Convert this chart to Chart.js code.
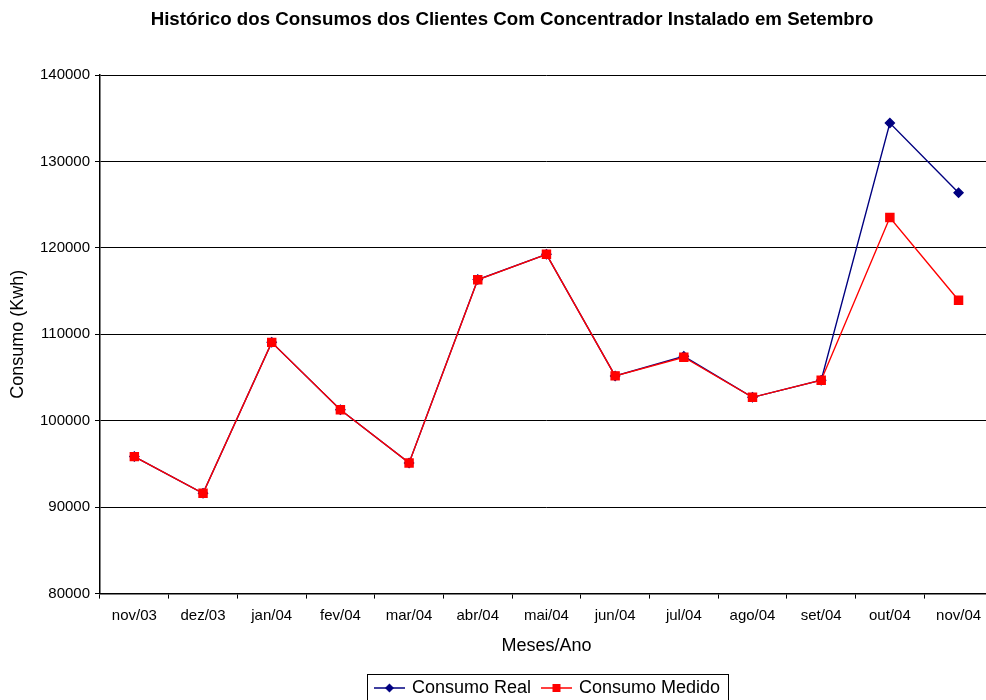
<!DOCTYPE html>
<html>
<head>
<meta charset="utf-8">
<script src="https://cdn.jsdelivr.net/npm/chart.js@4/dist/chart.umd.min.js"></script>
<style>
  html, body { margin: 0; padding: 0; background: #fff; overflow: hidden; }
  .wrap { width: 1000px; height: 700px; }
</style>
</head>
<body>
<div class="wrap"><canvas id="chart" width="1000" height="700"></canvas></div>
<script>
// Data
const meses = ["nov/03", "dez/03", "jan/04", "fev/04", "mar/04", "abr/04", "mai/04",
  "jun/04", "jul/04", "ago/04", "set/04", "out/04", "nov/04"];
const consumoReal = [95850, 91600, 109070, 101280, 95120, 116330, 119260,
  105190, 107450, 102710, 104690, 134450, 126370];
const consumoMedido = [95850, 91600, 109070, 101280, 95120, 116310, 119260,
  105190, 107350, 102710, 104690, 123510, 113940];
const yTicks = [80000, 90000, 100000, 110000, 120000, 130000, 140000];

const FONT = "'Liberation Sans', Arial, sans-serif";

// legend icon: short line with the marker in the middle
function legendIcon(color, shape) {
  const c = document.createElement("canvas");
  c.width = 31; c.height = 12;
  const ctx = c.getContext("2d");
  ctx.strokeStyle = color;
  ctx.lineWidth = 1.5;
  ctx.beginPath();
  ctx.moveTo(0, 6); ctx.lineTo(31, 6);
  ctx.stroke();
  ctx.fillStyle = color;
  ctx.beginPath();
  if (shape === "diamond") {
    ctx.moveTo(15.5, 1.5); ctx.lineTo(20, 6); ctx.lineTo(15.5, 10.5); ctx.lineTo(11, 6);
    ctx.closePath();
  } else {
    ctx.rect(11.5, 2, 8, 8);
  }
  ctx.fill();
  return c;
}

// move title/legend to where they sit in the original, then box the legend
const layoutTweak = {
  id: "layoutTweak",
  afterLayout(chart) {
    const t = chart.titleBlock;
    if (t) { t.left += 12; t.right += 12; }
    const l = chart.legend;
    if (l) { l.left += 48; l.right += 48; l.top += 7; l.bottom += 7; }
  },
  afterDraw(chart) {
    const l = chart.legend;
    if (!l || !l.legendHitBoxes || !l.legendHitBoxes.length) return;
    const boxes = l.legendHitBoxes;
    const first = boxes[0];
    const last = boxes[boxes.length - 1];
    const x0 = Math.round(first.left - 9) + 0.5;
    const x1 = Math.round(last.left + last.width + 8) + 0.5;
    const y0 = Math.round(first.top + first.height / 2 - 14) + 0.5;
    const ctx = chart.ctx;
    ctx.save();
    ctx.strokeStyle = "#000";
    ctx.lineWidth = 1;
    ctx.strokeRect(x0, y0, x1 - x0, 40);
    ctx.restore();
  }
};

new Chart("chart", {
  type: "line",
  data: {
    labels: meses,
    datasets: [
      {
        label: "Consumo Real",
        data: consumoReal,
        order: 1,
        borderColor: "#000080",
        backgroundColor: "#000080",
        borderWidth: 1.4,
        pointStyle: "rectRot",
        pointRadius: 4.5,
        pointHoverRadius: 4.5,
        tension: 0,
      },
      {
        label: "Consumo Medido",
        data: consumoMedido,
        order: 0,
        borderColor: "#ff0000",
        backgroundColor: "#ff0000",
        borderWidth: 1.4,
        pointStyle: "rect",
        pointRadius: 5.7,
        pointHoverRadius: 5.7,
        tension: 0,
      },
    ],
  },
  options: {
    responsive: false,
    animation: false,
    layout: { padding: 0 },
    plugins: {
      title: {
        display: true,
        text: "Histórico dos Consumos dos Clientes Com Concentrador Instalado em Setembro",
        color: "#000",
        font: { family: FONT, size: 18.7, weight: "bold" },
        padding: { top: 9, bottom: 43.6 },
      },
      legend: {
        position: "bottom",
        labels: {
          color: "#000",
          font: { family: FONT, size: 18 },
          usePointStyle: true,
          pointStyleWidth: 27,
          padding: 12,
          generateLabels(chart) {
            return chart.data.datasets.map((ds, i) => ({
              text: ds.label,
              pointStyle: legendIcon(ds.borderColor, i === 0 ? "diamond" : "square"),
              fillStyle: ds.borderColor,
              strokeStyle: ds.borderColor,
              lineWidth: 0,
              datasetIndex: i,
              fontColor: "#000",
            }));
          },
        },
      },
      tooltip: { enabled: false },
    },
    scales: {
      x: {
        type: "category",
        offset: true,
        grid: {
          display: true,
          offset: true,
          drawOnChartArea: false,
          drawTicks: true,
          tickLength: 5,
          color: "#000",
        },
        border: { display: true, color: "#000", width: 1.5 },
        ticks: {
          color: "#000",
          font: { family: FONT, size: 15 },
          padding: 8,
          maxRotation: 0,
          autoSkip: false,
        },
        title: {
          display: true,
          text: "Meses/Ano",
          color: "#000",
          font: { family: FONT, size: 18 },
          padding: { top: 4, bottom: 3 },
        },
        afterFit(scale) { scale.height = 66.4; },
      },
      y: {
        min: 80000,
        max: 140000,
        afterBuildTicks(scale) { scale.ticks = yTicks.map(v => ({ value: v })); },
        grid: {
          color: "#000",
          lineWidth: 1,
          drawTicks: true,
          tickLength: 5,
        },
        border: { display: true, color: "#000", width: 1.5 },
        ticks: {
          color: "#000",
          font: { family: FONT, size: 15 },
          padding: 5,
          callback: (v) => String(v),
        },
        title: {
          display: true,
          text: "Consumo (Kwh)",
          color: "#000",
          font: { family: FONT, size: 18 },
          padding: { top: 7, bottom: 8 },
        },
        afterFit(scale) { scale.width = 100; },
      },
    },
  },
  plugins: [layoutTweak],
});
</script>
</body>
</html>
